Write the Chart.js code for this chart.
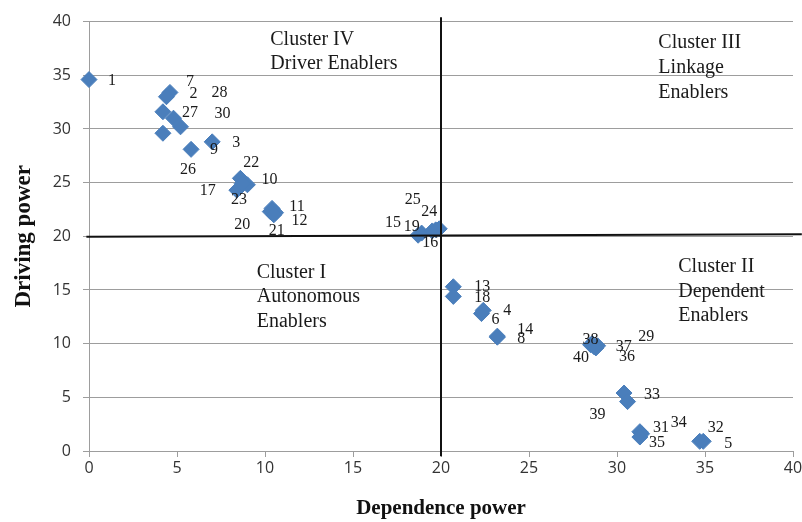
<!DOCTYPE html>
<html>
<head>
<meta charset="utf-8">
<script src="https://cdn.jsdelivr.net/npm/chart.js@4.4.1/dist/chart.umd.min.js"></script>
<style>
  body { margin: 0; background: #fff; }
</style>
</head>
<body>
<canvas id="micmac" width="802" height="522"></canvas>
<script>
// enabler numbers, with their dependence (x) and driving (y) power
const enablers   = ['1', '7', '2', '28', '27', '30', '9', '3', '26',
                    '22', '10', '17', '23', '11', '12', '20', '21',
                    '15', '19', '16', '24', '25',
                    '13', '18', '4', '6', '14', '8',
                    '38', '40', '37', '36', '29',
                    '33', '39', '31', '34', '35', '32', '5']
const dependence = [0, 4.6, 4.4, 4.8, 4.2, 5.2, 4.2, 7.0, 5.8,
                    8.6, 9.0, 8.4, 8.7, 10.4, 10.6, 10.3, 10.5,
                    18.7, 18.9, 19.5, 19.9, 19.7,
                    20.7, 20.7, 22.4, 22.3, 23.2, 23.2,
                    28.5, 28.8, 28.9, 28.7, 28.6,
                    30.4, 30.6, 31.3, 31.4, 31.3, 34.7, 34.9]
const driving    = [34.6, 33.4, 33.0, 31.0, 31.6, 30.2, 29.6, 28.8, 28.1,
                    25.4, 24.8, 24.3, 24.9, 22.6, 22.2, 22.3, 22.0,
                    20.1, 20.3, 20.5, 20.7, 20.6,
                    15.3, 14.4, 13.1, 12.8, 10.7, 10.6,
                    9.9, 9.6, 9.8, 9.7, 10.0,
                    5.4, 4.6, 1.8, 1.6, 1.3, 0.9, 0.9]
const axisMin = 0
const axisMax = 40
const axisStep = 5
const quadrantDependence = 20
const quadrantDriving = 20

const clusterNames = [
    ['Cluster IV', 'Driver Enablers'],
    ['Cluster III', 'Linkage', 'Enablers'],
    ['Cluster I', 'Autonomous', 'Enablers'],
    ['Cluster II', 'Dependent', 'Enablers'],
]
// where each cluster caption starts, in axis units (first baseline)
const clusterAnchors = [[10.3, 37.85], [32.35, 37.5], [9.53, 16.15], [33.48, 16.67]]

// label nudges in px, same order as enablers
const labelOffsets = [
    [23, 1], [20, -11], [27, -3], [46, -25], [27, 1], [42, -13], [51, 17], [24, 1], [-3, 20],
    [11, -16], [22, -5], [-29, 1], [-3, 16], [25, -2], [24, 8], [-28, 13], [3, 16],
    [-25, -12], [-10, -6], [-2, 12], [-10, -17], [-23, -30],
    [29, 0], [29, 1], [24, 0], [14, 6], [28, -6], [24, 2],
    [0, -5], [-15, 10], [26, 1], [33, 10], [54, -7],
    [28, 2], [-30, 13], [21, -4], [37, -11], [17, 6], [16, -14], [25, 2],
]

const points = dependence.map((x, i) => ({x, y: driving[i]}))

const serif = '"Liberation Serif", "Times New Roman", serif'

const pointLabels = {
    id: 'pointLabels',
    afterDatasetsDraw(chart) {
        const ctx = chart.ctx
        const meta = chart.getDatasetMeta(2)
        ctx.save()
        ctx.font = '16px ' + serif
        ctx.fillStyle = '#1a1a1a'
        ctx.textAlign = 'center'
        ctx.textBaseline = 'middle'
        meta.data.forEach((pt, i) => {
            const [dx, dy] = labelOffsets[i]
            ctx.fillText(enablers[i], pt.x + dx, pt.y + dy)
        })
        // cluster captions
        const {x, y} = chart.scales
        ctx.font = '20px ' + serif
        ctx.textAlign = 'left'
        ctx.textBaseline = 'alphabetic'
        clusterNames.forEach((lines, i) => {
            const px = x.getPixelForValue(clusterAnchors[i][0])
            const py = y.getPixelForValue(clusterAnchors[i][1])
            lines.forEach((line, j) => ctx.fillText(line, px, py + j * 24.6))
        })
        ctx.restore()
    }
}

const gridGrey = '#9d9d9d'
const tickFont = {family: '"Open Sans", sans-serif', size: 16}

new Chart(document.getElementById('micmac'), {
    type: 'scatter',
    data: {
        datasets: [
            {
                // vertical divider
                data: [{x: quadrantDependence, y: axisMin - 0.5}, {x: quadrantDependence, y: axisMax + 0.4}],
                showLine: true,
                borderColor: '#111',
                borderWidth: 2,
                pointRadius: 0,
                clip: false
            },
            {
                // horizontal divider (slightly tilted in the source)
                data: [{x: axisMin - 0.15, y: quadrantDriving - 0.05}, {x: axisMax + 0.5, y: quadrantDriving + 0.19}],
                showLine: true,
                borderColor: '#111',
                borderWidth: 2,
                pointRadius: 0,
                clip: false
            },
            {
                data: points,
                pointStyle: 'rectRot',
                pointRadius: 8,
                pointHoverRadius: 8,
                backgroundColor: '#4a7ebb',
                borderColor: '#4a7ebb',
                borderWidth: 1,
                clip: false
            }
        ]
    },
    options: {
        responsive: false,
        animation: false,
        events: [],
        layout: {padding: {top: 19, right: 9, left: 0, bottom: 0}},
        plugins: {
            legend: {display: false},
            tooltip: {enabled: false}
        },
        scales: {
            x: {
                min: axisMin,
                max: axisMax,
                ticks: {stepSize: axisStep, color: '#333', font: tickFont, padding: 2, maxRotation: 0},
                grid: {drawOnChartArea: false, color: gridGrey, tickLength: 6},
                border: {color: gridGrey},
                title: {
                    display: true,
                    text: 'Dependence power',
                    color: '#111',
                    font: {family: serif, size: 21, weight: 'bold'},
                    padding: {top: 0, bottom: 1}
                },
                afterFit: s => { s.height = 71; s.paddingLeft = 0; s.paddingRight = 0 }
            },
            y: {
                min: axisMin,
                max: axisMax,
                ticks: {stepSize: axisStep, color: '#333', font: tickFont, padding: 12},
                grid: {color: gridGrey, tickLength: 6},
                border: {color: gridGrey},
                title: {
                    display: true,
                    text: 'Driving power',
                    color: '#111',
                    font: {family: serif, size: 23, weight: 'bold'},
                    padding: {top: 10, bottom: 0}
                },
                afterFit: s => { s.width = 89 }
            }
        }
    },
    plugins: [pointLabels]
})
</script>
</body>
</html>
